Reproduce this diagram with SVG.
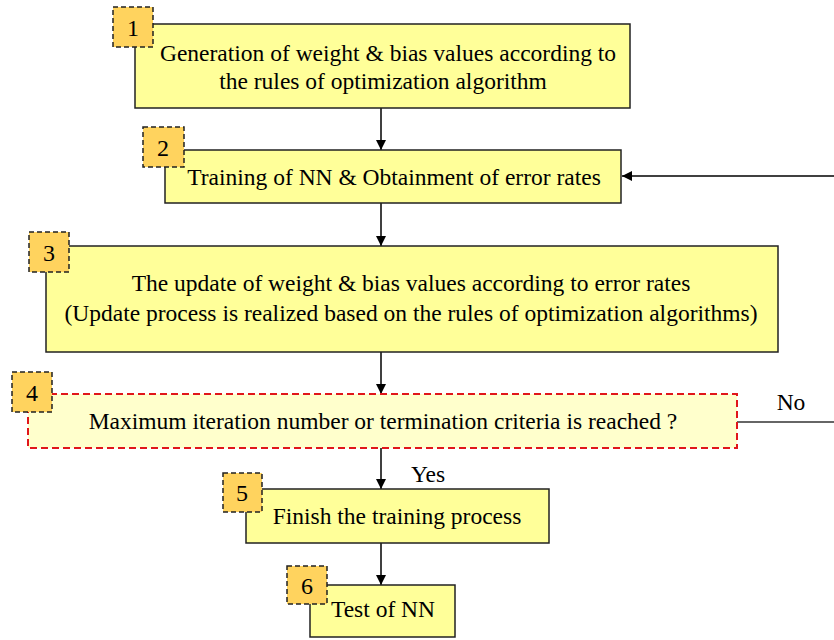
<svg xmlns="http://www.w3.org/2000/svg" width="834" height="640" viewBox="0 0 834 640">
<defs>
<marker id="ah" viewBox="0 0 10 10" refX="10" refY="5" markerWidth="10" markerHeight="10" markerUnits="userSpaceOnUse" orient="auto"><path d="M0,0 L10,5 L0,10 z" fill="#000"/></marker>
<style>
.box{fill:#FFFF99;stroke:#222;stroke-width:1.5}
.dbox{fill:#FFFFCC;stroke:#E0161B;stroke-width:2;stroke-dasharray:7,4}
.badge{fill:#FFD35E;stroke:#222;stroke-width:1.5;stroke-dasharray:5,3}
.t{fill:#000;text-anchor:middle}
.conn{stroke:#000;stroke-width:1.5;fill:none;marker-end:url(#ah)}
.line{stroke:#333;stroke-width:1.5;fill:none}
</style>
</defs>
<rect width="834" height="640" fill="#fff"/>
<g id="connectors">
<path class="conn" d="M381,108 V150"/>
<path class="conn" d="M381,203 V246"/>
<path class="conn" d="M381,352 V394"/>
<path class="conn" d="M381,448 V489"/>
<path class="conn" d="M381,543 V585"/>
<path class="line" d="M737,422 H834"/>
<path class="conn" d="M834,176 H622"/>
<text class="t" font-family="Liberation Serif" font-size="23.5" x="791" y="410">No</text>
<text class="t" font-family="Liberation Serif" font-size="23.5" x="428" y="482">Yes</text>
</g>
<g id="node1">
<rect class="box" x="135" y="24" width="495" height="84"/>
<rect class="badge" x="113" y="7" width="40" height="40"/>
<text class="t" font-family="Liberation Serif" font-size="24" x="133" y="36">1</text>
<text class="t" font-family="Liberation Serif" font-size="23.5" x="388" y="61">Generation of weight &amp; bias values according to</text>
<text class="t" font-family="Liberation Serif" font-size="23.5" x="383" y="89">the rules of optimization algorithm</text>
</g>
<g id="node2">
<rect class="box" x="165" y="150" width="456" height="53"/>
<rect class="badge" x="143" y="127" width="41" height="40"/>
<text class="t" font-family="Liberation Serif" font-size="24" x="163" y="156">2</text>
<text class="t" font-family="Liberation Serif" font-size="23.5" x="394" y="185">Training of NN &amp; Obtainment of error rates</text>
</g>
<g id="node3">
<rect class="box" x="46" y="246" width="732" height="106"/>
<rect class="badge" x="29" y="232" width="40" height="40"/>
<text class="t" font-family="Liberation Serif" font-size="24" x="49" y="261">3</text>
<text class="t" font-family="Liberation Serif" font-size="23.5" x="411" y="291">The update of weight &amp; bias values according to error rates</text>
<text class="t" font-family="Liberation Serif" font-size="23.5" x="411" y="321">(Update process is realized based on the rules of optimization algorithms)</text>
</g>
<g id="node4">
<rect class="dbox" x="28" y="394" width="709" height="54"/>
<rect class="badge" x="12" y="372" width="40" height="40"/>
<text class="t" font-family="Liberation Serif" font-size="24" x="32" y="401">4</text>
<text class="t" font-family="Liberation Serif" font-size="23.5" x="383" y="429">Maximum iteration number or termination criteria is reached ?</text>
</g>
<g id="node5">
<rect class="box" x="246" y="489" width="303" height="54"/>
<rect class="badge" x="223" y="473" width="39" height="39"/>
<text class="t" font-family="Liberation Serif" font-size="24" x="242" y="501">5</text>
<text class="t" font-family="Liberation Serif" font-size="23.5" x="397" y="524">Finish the training process</text>
</g>
<g id="node6">
<rect class="box" x="310" y="585" width="145" height="52"/>
<rect class="badge" x="287" y="566" width="40" height="38"/>
<text class="t" font-family="Liberation Serif" font-size="24" x="307" y="594">6</text>
<text class="t" font-family="Liberation Serif" font-size="23.5" x="383" y="617">Test of NN</text>
</g>
</svg>
